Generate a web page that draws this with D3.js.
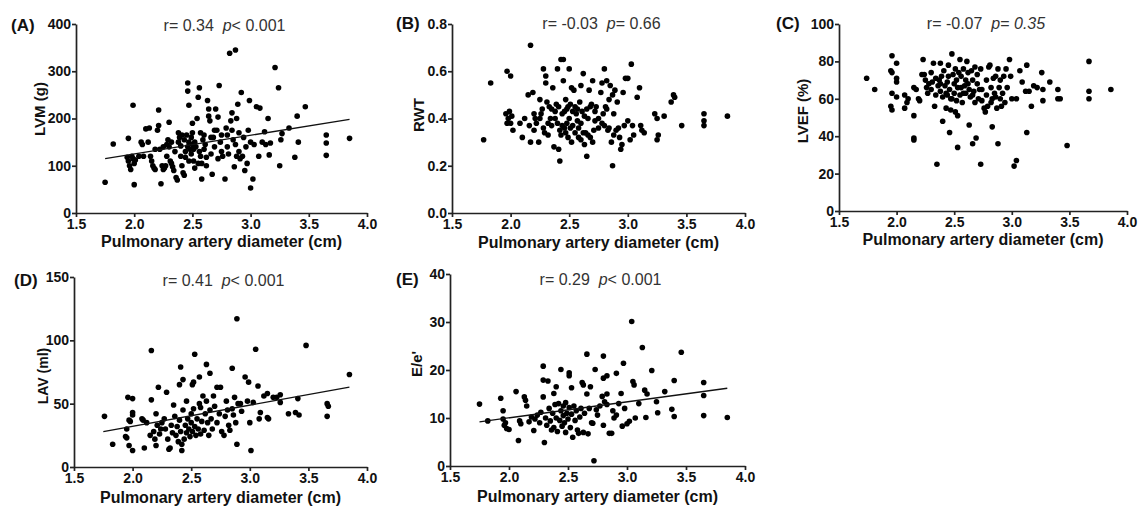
<!DOCTYPE html>
<html>
<head>
<meta charset="utf-8">
<script src="https://cdn.jsdelivr.net/npm/d3@7"></script>
<style>
  html, body { margin: 0; padding: 0; background: #fff; }
  svg { display: block; font-family: "Liberation Sans", Arial, sans-serif; }
  .tick text { font-weight: bold; font-size: 14px; fill: #111; }
  .domain, .tick line { stroke: #222; stroke-width: 1.7px; }
</style>
</head>
<body>
<svg id="chart" width="1140" height="506"></svg>
<script>
// ---------------- data ----------------
const panelLabels = ["(A)", "(B)", "(C)", "(D)", "(E)"];
const yTitles = ["LVM (g)", "RWT", "LVEF (%)", "LAV (ml)", "E/e'"];
const xTitle = "Pulmonary artery diameter (cm)";
const xTicks = [1.5, 2.0, 2.5, 3.0, 3.5, 4.0];
const yTicksA = [0, 100, 200, 300, 400];
const yTicksB = [0.0, 0.2, 0.4, 0.6, 0.8];
const yTicksC = [0, 20, 40, 60, 80, 100];
const yTicksD = [0, 50, 100, 150];
const yTicksE = [0, 10, 20, 30, 40];
const rValues = ["0.34", "-0.03", "-0.07", "0.41", "0.29"];
const pSigns = ["<", "=", "=", "<", "<"];
const pValues = ["0.001", "0.66", "0.35", "0.001", "0.001"];

const lvmData = [
[1.75,65],[1.82,146],[1.95,158],[1.99,228],[2.00,60],[1.94,118],[1.95,110],[1.96,100],[1.97,92],[1.98,120],
[1.99,115],[2.00,105],[2.01,112],[2.04,120],[2.06,150],[2.07,145],[2.10,178],[2.13,180],[2.14,120],[2.15,110],
[2.16,100],[2.17,95],[2.18,92],[2.20,175],[2.21,185],[2.21,218],[2.22,135],[2.23,62],[2.24,100],[2.25,92],
[2.26,95],[2.27,100],[2.28,145],[2.29,155],[2.30,192],[2.30,140],[2.31,110],[2.32,105],[2.33,98],[2.34,90],
[2.35,130],[2.36,75],[2.37,70],[2.38,170],[2.38,150],[2.39,160],[2.40,142],[2.40,120],[2.41,100],[2.42,85],
[2.43,80],[2.44,130],[2.45,165],[2.46,258],[2.46,275],[2.47,228],[2.47,150],[2.48,135],[2.49,125],[2.50,190],
[2.50,170],[2.50,145],[2.51,110],[2.52,95],[2.53,140],[2.54,200],[2.55,245],[2.56,265],[2.56,130],[2.57,120],
[2.58,105],[2.58,72],[2.59,155],[2.60,165],[2.61,145],[2.62,100],[2.63,238],[2.64,220],[2.64,205],[2.65,195],
[2.66,125],[2.67,82],[2.68,160],[2.69,140],[2.70,220],[2.71,175],[2.72,203],[2.72,115],[2.73,270],[2.74,150],
[2.75,130],[2.76,120],[2.78,72],[2.79,180],[2.80,140],[2.81,125],[2.82,338],[2.83,195],[2.84,212],[2.85,155],
[2.86,98],[2.87,345],[2.87,145],[2.88,200],[2.89,230],[2.90,170],[2.91,115],[2.92,255],[2.94,160],[2.95,90],
[2.96,140],[2.97,105],[2.98,175],[2.99,238],[3.00,150],[3.00,53],[3.02,72],[3.03,145],[3.05,225],[3.07,120],
[3.08,222],[3.10,150],[3.12,172],[3.13,145],[3.15,200],[3.16,123],[3.17,148],[3.21,308],[3.24,265],[3.25,100],
[3.26,155],[3.27,168],[3.33,180],[3.38,118],[3.40,205],[3.41,150],[3.47,225],[3.65,165],[3.65,148],[3.65,122],
[3.85,158],[2.41,165],[2.43,155],[2.44,118],[2.46,140],[2.47,110],[2.49,160],[2.51,135],[2.52,150],[2.55,105],
[2.57,170],[2.60,135],[2.62,118],[2.66,160],[2.69,175],[2.75,165],[2.80,165],[2.84,175],[2.88,120],[2.90,130],
[2.93,120],[2.25,140],[2.28,120],[2.32,150],[2.18,135],[2.08,120],[2.12,150]
];
const lvmFit = [[1.75,115],[3.85,198]];

const rwtData = [
[1.77,0.31],[1.83,0.55],[1.97,0.60],[2.00,0.58],[1.96,0.42],[1.97,0.38],[1.98,0.40],[1.99,0.43],[2.00,0.38],[2.01,0.41],
[2.02,0.35],[2.08,0.38],[2.10,0.32],[2.12,0.40],[2.15,0.50],[2.16,0.37],[2.17,0.71],[2.17,0.30],[2.19,0.51],[2.20,0.35],
[2.21,0.40],[2.22,0.38],[2.24,0.30],[2.25,0.48],[2.26,0.42],[2.27,0.44],[2.28,0.61],[2.29,0.34],[2.30,0.58],[2.30,0.55],
[2.31,0.47],[2.32,0.33],[2.33,0.45],[2.34,0.40],[2.35,0.37],[2.36,0.53],[2.37,0.28],[2.38,0.43],[2.39,0.46],[2.40,0.61],
[2.40,0.38],[2.41,0.27],[2.42,0.22],[2.42,0.35],[2.43,0.65],[2.44,0.42],[2.45,0.56],[2.45,0.65],[2.46,0.36],[2.47,0.48],
[2.48,0.44],[2.49,0.32],[2.50,0.40],[2.50,0.61],[2.51,0.46],[2.52,0.30],[2.52,0.53],[2.53,0.37],[2.54,0.52],[2.55,0.34],
[2.56,0.42],[2.57,0.39],[2.58,0.36],[2.59,0.47],[2.60,0.54],[2.60,0.31],[2.61,0.43],[2.62,0.59],[2.63,0.29],[2.64,0.34],
[2.65,0.24],[2.65,0.44],[2.66,0.40],[2.67,0.52],[2.68,0.32],[2.69,0.46],[2.70,0.56],[2.71,0.35],[2.72,0.39],[2.73,0.45],
[2.75,0.36],[2.77,0.51],[2.78,0.55],[2.79,0.42],[2.80,0.61],[2.80,0.37],[2.81,0.45],[2.82,0.56],[2.83,0.35],[2.84,0.48],
[2.85,0.54],[2.86,0.30],[2.87,0.20],[2.87,0.50],[2.88,0.42],[2.89,0.52],[2.90,0.35],[2.91,0.47],[2.93,0.32],[2.94,0.27],
[2.95,0.29],[2.96,0.51],[2.97,0.37],[2.98,0.57],[3.00,0.57],[3.00,0.39],[3.02,0.31],[3.03,0.63],[3.04,0.37],[3.05,0.33],
[3.08,0.49],[3.10,0.53],[3.11,0.37],[3.12,0.35],[3.14,0.34],[3.23,0.42],[3.25,0.40],[3.25,0.31],[3.26,0.33],[3.31,0.41],
[3.37,0.47],[3.39,0.50],[3.40,0.49],[3.46,0.37],[3.65,0.42],[3.65,0.39],[3.65,0.37],[3.85,0.41],
[2.38,0.40],[2.41,0.45],[2.43,0.33],[2.44,0.37],[2.46,0.43],[2.47,0.34],[2.48,0.38],[2.49,0.45],[2.51,0.36],[2.53,0.43],
[2.55,0.45],[2.57,0.44],[2.58,0.32],[2.60,0.38],[2.62,0.34],[2.63,0.41],[2.66,0.33],[2.68,0.45],[2.70,0.30],[2.72,0.43],
[2.75,0.40],[2.78,0.38],[2.82,0.44],[2.84,0.36],[2.88,0.33],[2.92,0.36],[2.25,0.40],[2.28,0.36],[2.32,0.38],[2.35,0.44],
[2.20,0.42]
];

const lvefData = [
[1.74,71],[1.81,65],[1.95,75],[1.96,74],[1.96,83],[1.96,63],[1.95,56],[1.96,54],[2.00,79],[2.00,71],
[2.00,69],[2.00,61],[2.07,62],[2.07,55],[2.09,58],[2.10,60],[2.15,66],[2.15,51],[2.15,39],[2.15,38],
[2.17,65],[2.19,60],[2.20,59],[2.23,81],[2.22,73],[2.24,73],[2.25,70],[2.26,66],[2.27,63],[2.28,68],
[2.30,65],[2.31,69],[2.32,79],[2.33,56],[2.34,62],[2.35,25],[2.36,67],[2.37,70],[2.38,79],[2.38,64],
[2.39,72],[2.40,48],[2.40,61],[2.41,75],[2.42,67],[2.43,55],[2.43,63],[2.44,69],[2.45,78],[2.45,72],
[2.46,42],[2.46,65],[2.47,54],[2.47,60],[2.48,84],[2.49,73],[2.50,68],[2.50,63],[2.51,76],[2.51,53],
[2.52,70],[2.53,34],[2.53,51],[2.53,66],[2.54,74],[2.55,81],[2.55,62],[2.56,72],[2.57,58],[2.58,76],
[2.59,67],[2.60,70],[2.60,63],[2.61,80],[2.62,74],[2.63,46],[2.63,65],[2.64,61],[2.65,75],[2.66,36],
[2.66,70],[2.67,64],[2.68,77],[2.68,58],[2.69,39],[2.70,68],[2.71,60],[2.72,65],[2.73,25],[2.73,76],
[2.74,59],[2.76,55],[2.77,53],[2.78,62],[2.79,56],[2.80,77],[2.81,78],[2.82,66],[2.83,45],[2.83,60],
[2.84,71],[2.85,63],[2.86,72],[2.87,55],[2.88,36],[2.88,76],[2.89,66],[2.90,60],[2.90,70],[2.91,56],
[2.92,63],[2.93,72],[2.94,58],[2.95,76],[2.96,66],[2.98,81],[2.99,72],[3.00,60],[3.02,24],[3.04,27],
[3.04,60],[3.07,75],[3.09,69],[3.12,64],[3.13,78],[3.13,42],[3.15,64],[3.17,56],[3.19,67],[3.22,66],
[3.26,74],[3.27,65],[3.27,59],[3.33,69],[3.40,65],[3.40,60],[3.42,60],[3.48,35],[3.67,80],[3.67,64],
[3.67,60],[3.86,65],
[2.44,62],[2.48,60],[2.52,59],[2.56,66],[2.58,63],[2.62,68],[2.66,62],[2.70,73],[2.74,65],[2.78,70],
[2.82,58],[2.86,61],[2.38,68],[2.34,71],[2.30,74]
];

const lavData = [
[1.76,40],[1.83,18],[1.94,24],[1.95,30],[1.95,23],[1.96,55],[1.97,37],[1.97,17],[1.98,36],[2.00,54],
[2.00,43],[2.00,41],[2.00,13],[2.08,38],[2.09,37],[2.10,15],[2.12,35],[2.15,25],[2.16,92],[2.16,53],
[2.18,28],[2.19,22],[2.20,17],[2.20,42],[2.21,33],[2.22,63],[2.23,26],[2.24,30],[2.25,35],[2.27,38],
[2.28,30],[2.29,59],[2.30,22],[2.31,14],[2.32,15],[2.33,33],[2.34,27],[2.35,49],[2.36,40],[2.37,25],
[2.38,32],[2.39,20],[2.40,65],[2.40,37],[2.41,79],[2.41,28],[2.42,13],[2.42,18],[2.43,69],[2.43,45],
[2.44,22],[2.45,33],[2.46,52],[2.46,27],[2.47,38],[2.48,30],[2.49,24],[2.50,42],[2.50,35],[2.51,65],
[2.51,28],[2.52,67],[2.52,46],[2.53,89],[2.53,32],[2.54,25],[2.55,38],[2.56,30],[2.57,71],[2.57,50],
[2.58,47],[2.58,26],[2.59,36],[2.60,56],[2.61,29],[2.62,42],[2.63,81],[2.63,52],[2.64,35],[2.65,25],
[2.66,74],[2.66,45],[2.67,38],[2.68,30],[2.69,56],[2.70,48],[2.72,63],[2.72,35],[2.74,42],[2.75,63],
[2.76,28],[2.78,25],[2.79,40],[2.80,52],[2.81,45],[2.82,33],[2.83,29],[2.85,78],[2.85,46],[2.86,41],
[2.87,55],[2.88,35],[2.89,117],[2.89,18],[2.90,50],[2.92,50],[2.93,44],[2.96,71],[2.98,52],[2.99,67],
[3.00,35],[3.01,13],[3.03,51],[3.05,93],[3.07,64],[3.08,38],[3.09,43],[3.12,56],[3.15,39],[3.15,58],
[3.16,38],[3.20,55],[3.23,55],[3.26,51],[3.26,57],[3.33,42],[3.39,43],[3.41,54],[3.42,41],[3.48,96],
[3.66,50],[3.67,48],[3.66,40],[3.85,73]
];
const lavFit = [[1.75,28],[3.85,63]];

const eeData = [
[1.75,12.9],[1.82,9.4],[1.93,14.1],[1.95,11.5],[1.95,9.8],[1.96,8.5],[1.97,9.0],[1.98,7.8],[2.00,7.6],[2.06,15.5],
[2.08,5.3],[2.09,9.4],[2.10,8.8],[2.13,14.4],[2.14,13.7],[2.15,12.5],[2.17,9.2],[2.19,10.2],[2.21,7.4],[2.22,9.8],
[2.24,10.6],[2.26,9.0],[2.27,11.2],[2.29,20.8],[2.29,17.9],[2.29,14.4],[2.30,4.9],[2.31,10.0],[2.32,8.5],[2.33,17.7],
[2.34,12.0],[2.35,9.4],[2.36,7.5],[2.37,11.0],[2.38,15.1],[2.38,8.0],[2.39,12.8],[2.40,16.5],[2.40,10.0],[2.41,7.2],
[2.42,13.0],[2.43,9.5],[2.44,20.1],[2.44,11.5],[2.45,8.3],[2.46,12.5],[2.46,10.5],[2.47,9.0],[2.48,13.2],[2.48,7.0],
[2.49,11.0],[2.50,9.8],[2.51,19.4],[2.51,18.8],[2.51,12.2],[2.52,8.0],[2.53,16.3],[2.53,10.8],[2.54,6.0],[2.55,12.5],
[2.56,9.5],[2.57,11.5],[2.58,7.5],[2.59,6.8],[2.60,10.2],[2.61,12.0],[2.62,17.4],[2.63,16.9],[2.63,7.0],[2.64,11.0],
[2.66,23.3],[2.66,15.0],[2.67,6.7],[2.68,12.0],[2.69,16.5],[2.70,9.0],[2.71,8.9],[2.72,1.1],[2.73,20.1],[2.74,11.7],
[2.75,10.6],[2.77,12.5],[2.79,14.5],[2.80,22.9],[2.80,18.3],[2.80,8.5],[2.81,13.4],[2.83,18.8],[2.83,15.0],[2.83,12.8],
[2.85,6.8],[2.87,6.8],[2.88,11.5],[2.89,10.0],[2.91,19.3],[2.91,10.6],[2.93,13.0],[2.95,15.1],[2.96,8.3],[2.97,21.4],
[2.98,12.0],[3.00,8.8],[3.02,9.3],[3.04,30.1],[3.05,17.6],[3.06,16.9],[3.07,10.0],[3.10,13.0],[3.13,24.7],[3.15,15.8],
[3.16,10.1],[3.17,15.0],[3.21,19.9],[3.25,13.4],[3.26,11.1],[3.32,15.5],[3.38,11.8],[3.40,10.3],[3.40,17.8],[3.46,23.7],
[3.65,17.4],[3.65,14.7],[3.65,10.5],[3.85,10.1]
];
const eeFit = [[1.75,9.2],[3.85,16.2]];

// ---------------- layout ----------------
const panels = [
  {data: lvmData, fit: lvmFit, yTicks: yTicksA, fmt: d3.format("d"),
   left: 76, right: 367, top: 24, bottom: 213, labX: 11, labY: 31, ytX: 40, ytY: 109, ytSize: 15, xtY: 247},
  {data: rwtData, fit: null, yTicks: yTicksB, fmt: d3.format(".1f"),
   left: 452, right: 745, top: 24, bottom: 213, labX: 396, labY: 29, ytX: 419, ytY: 115, ytSize: 15, xtY: 248},
  {data: lvefData, fit: null, yTicks: yTicksC, fmt: d3.format("d"),
   left: 839, right: 1127, top: 24, bottom: 211, labX: 776, labY: 29, ytX: 803, ytY: 111, ytSize: 15, xtY: 245},
  {data: lavData, fit: lavFit, yTicks: yTicksD, fmt: d3.format("d"),
   left: 74, right: 367, top: 277, bottom: 467, labX: 14, labY: 286, ytX: 43, ytY: 376, ytSize: 14, xtY: 503},
  {data: eeData, fit: eeFit, yTicks: yTicksE, fmt: d3.format("d"),
   left: 450, right: 745, top: 274, bottom: 466, labX: 396, labY: 285, ytX: 417, ytY: 364, ytSize: 15, xtY: 502}
];

const svg = d3.select("#chart");

panels.forEach((p, i) => {
  const x = d3.scaleLinear().domain([xTicks[0], xTicks[xTicks.length - 1]]).range([p.left, p.right]);
  const y = d3.scaleLinear().domain([p.yTicks[0], p.yTicks[p.yTicks.length - 1]]).range([p.bottom, p.top]);
  const g = svg.append("g");

  g.append("g")
    .attr("transform", `translate(0,${p.bottom})`)
    .call(d3.axisBottom(x).tickValues(xTicks).tickFormat(d3.format(".1f")).tickSize(4).tickSizeOuter(0).tickPadding(2));

  g.append("g")
    .attr("transform", `translate(${p.left},0)`)
    .call(d3.axisLeft(y).tickValues(p.yTicks).tickFormat(p.fmt).tickSize(4).tickSizeOuter(0).tickPadding(1));

  // points
  g.append("g").selectAll("circle").data(p.data).join("circle")
    .attr("cx", d => x(d[0]))
    .attr("cy", d => y(d[1]))
    .attr("r", 2.8)
    .attr("fill", "#000");

  // regression line
  if (p.fit) {
    g.append("path")
      .datum(p.fit)
      .attr("d", d3.line().x(d => x(d[0])).y(d => y(d[1])))
      .attr("fill", "none")
      .attr("stroke", "#111")
      .attr("stroke-width", 1.3);
  }

  // panel label
  g.append("text")
    .attr("x", p.labX).attr("y", p.labY)
    .attr("font-size", 17).attr("font-weight", "bold").attr("fill", "#111")
    .text(panelLabels[i]);

  // y-axis title
  g.append("text")
    .attr("transform", `translate(${p.ytX},${p.ytY}) rotate(-90)`)
    .attr("text-anchor", "middle").attr("dy", "0.35em")
    .attr("font-size", p.ytSize).attr("font-weight", "bold").attr("fill", "#111")
    .text(yTitles[i]);

  // x-axis title
  g.append("text")
    .attr("x", (p.left + p.right) / 2).attr("y", p.xtY)
    .attr("text-anchor", "middle")
    .attr("font-size", 16).attr("font-weight", "bold").attr("fill", "#111")
    .text(xTitle);

  // stats text
  const st = g.append("text")
    .attr("x", (p.left + p.right) / 2 + 3).attr("y", p.labY)
    .attr("text-anchor", "middle")
    .attr("font-size", 16).attr("fill", "#333")
    .style("white-space", "pre");
  st.append("tspan").text("r= " + rValues[i] + "  ");
  st.append("tspan").attr("font-style", "italic").text("p");
  st.append("tspan").text(pSigns[i] + " ");
  st.append("tspan").attr("font-style", i === 2 ? "italic" : "normal").text(pValues[i]);
});
</script>
</body>
</html>
